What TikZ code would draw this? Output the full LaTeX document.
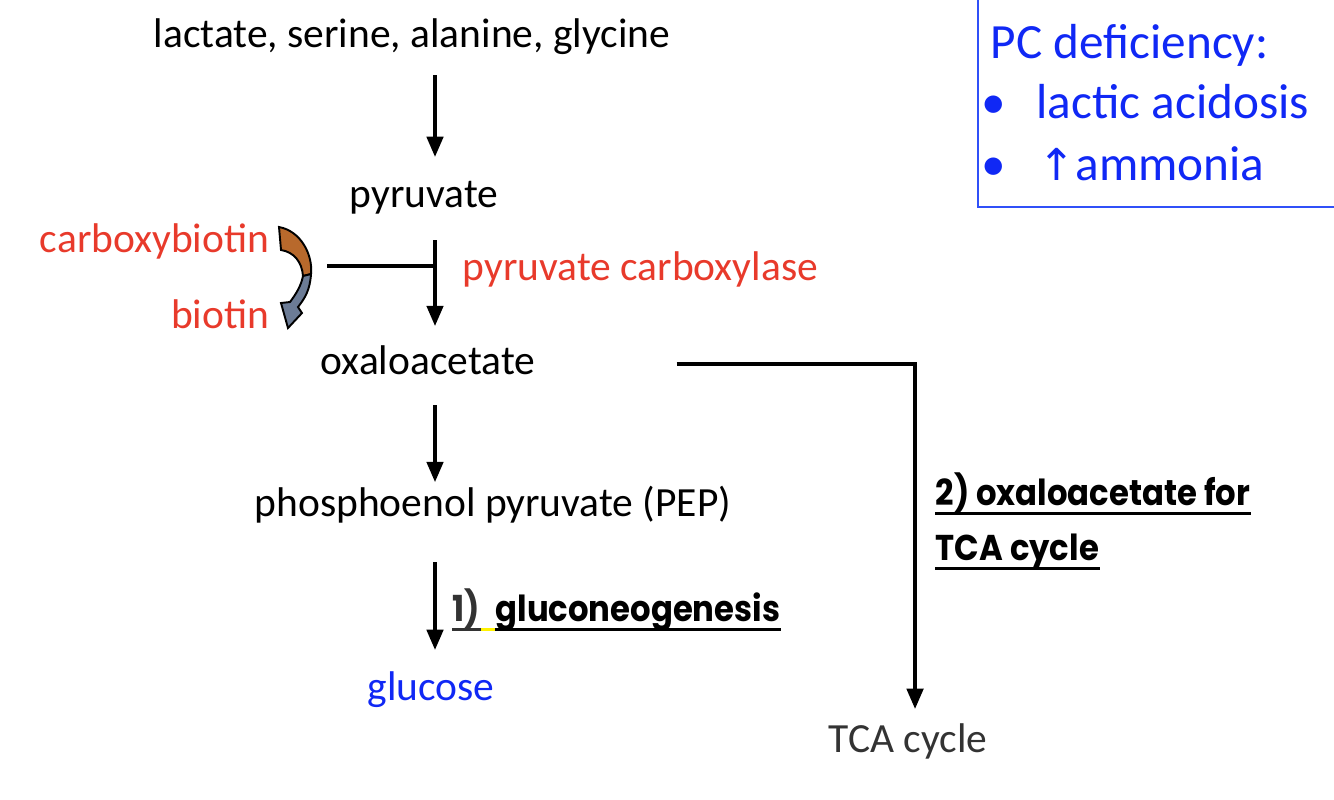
\documentclass[tikz,border=0pt]{standalone}
\usepackage{fontspec}
\setmainfont{Carlito}
\newfontfamily\geofont[FakeStretch=0.9]{Poppins}
\newfontfamily\symfont{DejaVu Sans}
\usetikzlibrary{arrows.meta, positioning}
\definecolor{pcred}{HTML}{E83A2B}
\definecolor{pcblue}{HTML}{1028F5}
\definecolor{boxblue}{HTML}{3050F8}
\definecolor{biobrown}{HTML}{B8692C}
\definecolor{bioslate}{HTML}{6C7C96}
\definecolor{darktext}{HTML}{333333}
\newcommand\mainsize{\fontsize{11.8}{14}\selectfont}
\newcommand\notesize{\fontsize{14}{17}\selectfont}
\tikzset{
  lbl/.style={inner sep=0pt,text height=8pt,text depth=2.5pt,font=\mainsize,anchor=base},
  redlbl/.style={lbl,text=pcred},
  tag/.style={inner sep=0pt,text height=8pt,text depth=2.3pt,font=\geofont\bfseries\fontsize{10.2}{12}\selectfont,anchor=base west},
  boxlbl/.style={inner sep=0pt,font=\notesize,text=pcblue,anchor=base west},
  flow/.style={-{Triangle[length=5.8pt,width=4.6pt]},line width=1.15pt},
  uline/.style={line width=0.85pt,#1},
}

\begin{document}
\begin{tikzpicture}[x=0.01cm,y=-0.01cm]
  \useasboundingbox (0,0) rectangle (1334,799);
  \coordinate (ax) at (435,0);

  % pathway
  \node[lbl] (lac) at (412,47) {lactate, serine, alanine, glycine};
  \node[lbl] (pyr) at (424,207) {pyruvate};
  \node[lbl] (oxa) at (428,374) {oxaloacetate};
  \node[lbl] (pep) at (493,516) {phosphoenol pyruvate (PEP)};
  \node[lbl,text=pcblue] (glu) at (431,700) {glucose};
  \node[lbl,text=darktext] (tca) at (908,752) {TCA cycle};

  % cofactor
  \node[redlbl,anchor=base east] (cbio) at (270,252) {carboxybiotin};
  \node[redlbl,anchor=base east] (bio) at (270,328) {biotin};
  \node[redlbl,anchor=base west] (pc) at (462,280) {pyruvate carboxylase};
  \coordinate (cofac) at (327,266);

  \draw[flow,shorten <=5.4pt,shorten >=6pt] (lac.south -| ax) -- (pyr.north -| ax);
  \draw[flow,shorten <=6.8pt,shorten >=5.4pt] (pyr.south -| ax) -- (oxa.north -| ax);
  \draw[line width=1.15pt] (cofac) -- (cofac -| ax);
  \draw[flow,shorten <=6.2pt,shorten >=1.4pt] (oxa.south -| ax) -- (pep.north -| ax);
  \draw[flow,shorten <=10.5pt,shorten >=6pt] (pep.south -| ax) -- (glu.north -| ax);
  \draw[flow,shorten <=40pt,shorten >=4pt] (oxa.east) -| ([xshift=2pt]tca.north);

  % curved arrow
  \filldraw[fill=biobrown,line width=0.55pt] (279,227) .. controls (301,231) and (313,255) .. (311,274)
    -- (303,276) .. controls (302,262) and (294,252) .. (281,250) -- cycle;
  \filldraw[fill=bioslate,line width=0.55pt] (311,274) .. controls (310,290) and (305,298) .. (298,307)
    -- (302,313) -- (288,328) -- (281,303) -- (290,302) .. controls (296,294) and (301,286) .. (303,276) -- cycle;

  % labels
  \node[tag,text=darktext] (g1) at (452,621) {1)};
  \node[tag,right=14 of g1] (g2) {gluconeogenesis};
  \draw[uline=darktext] (g1.south west) -- (g1.south east);
  \draw[uline=yellow] (g1.south east) -- (g2.south west);
  \draw[uline=black] (g2.south west) -- (g2.south east);
  \node[tag] (t1) at (935,505) {2) oxaloacetate for};
  \node[tag] (t2) at (935,560) {TCA cycle};
  \draw[uline=black] (t1.south west) -- (t1.south east);
  \draw[uline=black] (t2.south west) -- (t2.south east);

  % deficiency box
  \draw[boxblue,line width=0.6pt] (978,-5) rectangle (1345,207);
  \node[boxlbl] (def) at (990,58) {PC deficiency:};
  \node[boxlbl] (b1) at (981,118) {•};
  \node[boxlbl] (lact) at (1036,118) {lactic acidosis};
  \node[boxlbl] (b2) at (981,180) {•};
  \node[boxlbl] (amm) at (1038,180) {{\symfont\fontsize{12.5}{15}\selectfont ↑}ammonia};
\end{tikzpicture}
\end{document}
